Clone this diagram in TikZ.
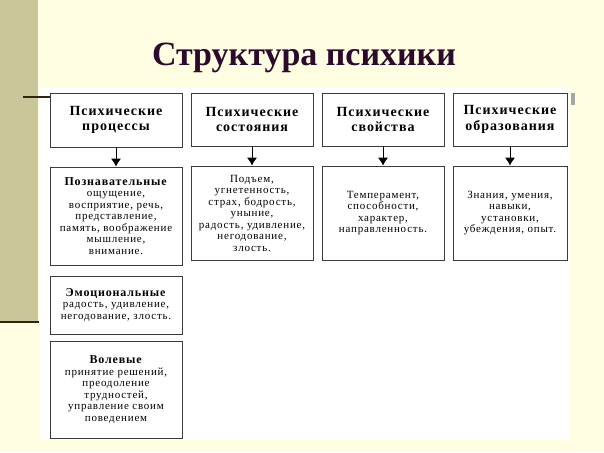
\documentclass[tikz,border=0pt]{standalone}
\usepackage{fontspec}
\setmainfont{Liberation Serif}[LetterSpace=7]
\newfontfamily\titlefont{Liberation Serif}
\usetikzlibrary{arrows.meta}

\definecolor{slidebg}{HTML}{FFFEE3}
\definecolor{stripkhaki}{HTML}{C9C69A}
\definecolor{titlepurple}{HTML}{2B0A2B}
\definecolor{rulebrown}{HTML}{33240F}
\definecolor{boxgray}{HTML}{3C3C3C}

\tikzset{
	headbox/.style={draw=boxgray, line width=0.8pt, fill=white, align=center, inner sep=0pt,
		font=\fontsize{14}{15.5}\selectfont\bfseries},
	itembox/.style={draw=boxgray, line width=0.8pt, fill=white, align=center, inner sep=0pt,
		font=\fontsize{11}{11.5}\selectfont},
	linkarrow/.style={line width=0.8pt, -{Latex[length=8pt,width=10pt]}}
}
\newcommand\boxhead[1]{\textbf{\fontsize{12}{11.5}\selectfont #1}}

\begin{document}
\begin{tikzpicture}[x=1pt, y=-1pt]
			%%%%% START %%%%%
			
			\useasboundingbox (0, 0) rectangle (604, 452);
			\fill[slidebg] (0, 0) rectangle (604, 452);
			\fill[stripkhaki] (0, 0) rectangle (38, 322);
			\fill[white] (40, 88) rectangle (569, 440);
			
			\draw[rulebrown, line width=1.2pt] (23, 97) -- (50, 97);
			\draw[rulebrown, line width=2pt] (0, 322) -- (39, 322);
			\fill[black!35] (571, 93) rectangle (575, 105);
			
			\node[font=\titlefont\fontsize{34}{34}\selectfont\bfseries, text=titlepurple, anchor=base] (title) at (304, 65) {Структура психики};
			
			\node[headbox, minimum width=132, minimum height=54] (proc) at (116, 120) {Психические\\процессы};
			\node[headbox, minimum width=122, minimum height=53] (sost) at (252, 119.5) {Психические\\состояния};
			\node[headbox, minimum width=122, minimum height=53] (svoj) at (383, 119.5) {Психические\\свойства};
			\node[headbox, minimum width=114, minimum height=53] (obraz) at (510, 119.5) {Психические\\образования};
			
			\node[itembox, minimum width=132, minimum height=98] (pozn) at (116, 216) {\boxhead{Познавательные}\\ощущение,\\восприятие, речь,\\представление,\\память, воображение\\мышление,\\внимание.};
			\node[itembox, minimum width=122, minimum height=94] (sostlist) at (252, 213) {Подъем,\\угнетенность,\\страх, бодрость,\\уныние,\\радость, удивление,\\негодование,\\злость.};
			\node[itembox, minimum width=122, minimum height=94] (svojlist) at (383, 213) {Темперамент,\\способности,\\характер,\\направленность.};
			\node[itembox, minimum width=114, minimum height=94] (obrazlist) at (510, 213) {Знания, умения,\\навыки,\\установки,\\убеждения, опыт.};
			
			\node[itembox, minimum width=132, minimum height=58] (emoc) at (116, 305) {\boxhead{Эмоциональные}\\радость, удивление,\\негодование, злость.};
			\node[itembox, minimum width=132, minimum height=97] (vol) at (116, 389.5) {\boxhead{Волевые}\\принятие решений,\\преодоление\\трудностей,\\управление своим\\поведением};
			
			\draw[linkarrow] (proc) -- (pozn);
			\draw[linkarrow] (sost) -- (sostlist);
			\draw[linkarrow] (svoj) -- (svojlist);
			\draw[linkarrow] (obraz) -- (obrazlist);
			
			%%%%% END %%%%%
\end{tikzpicture}
\end{document}
